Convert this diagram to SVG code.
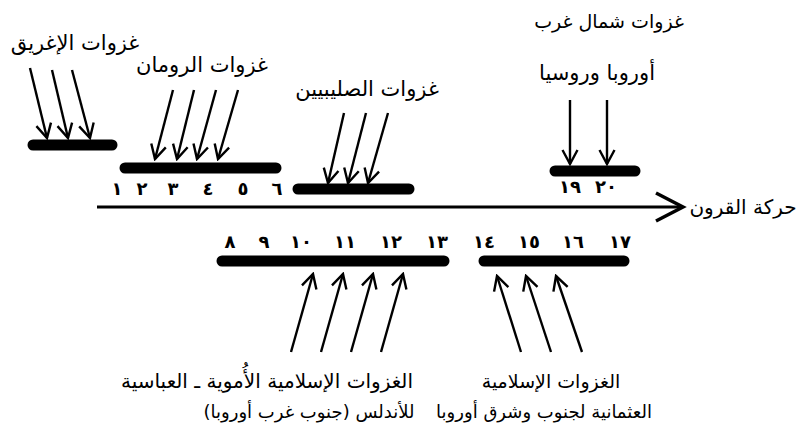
<svg xmlns="http://www.w3.org/2000/svg" width="801" height="438" viewBox="0 0 801 438">
<defs>
<style>
.lbl{font-family:"DejaVu Sans",sans-serif;font-size:21px;fill:#000;text-anchor:middle;direction:rtl}
.blbl{font-family:"DejaVu Sans",sans-serif;font-size:20px;fill:#000;text-anchor:middle;direction:rtl}
.slbl{font-family:"DejaVu Sans",sans-serif;font-size:18px;fill:#000;text-anchor:middle;direction:rtl}
.num{font-family:"DejaVu Sans",sans-serif;font-size:18px;font-weight:bold;fill:#000;text-anchor:middle}
.bar{stroke:#000;stroke-width:11;stroke-linecap:round}
.arr{stroke:#000;stroke-width:2.4;fill:none;marker-end:url(#ah)}
</style>
<marker id="ah" viewBox="0 0 18 18" refX="16" refY="9" markerWidth="18" markerHeight="18" orient="auto" markerUnits="userSpaceOnUse">
<path d="M2,1.5 L16,9 L2,16.5" fill="none" stroke="#000" stroke-width="2.4"/>
</marker>
</defs>
<rect width="801" height="438" fill="#fff"/>

<g id="timeline">
<line x1="97" y1="207" x2="682" y2="207" stroke="#000" stroke-width="3"/>
<path d="M656,193 L683,207 L656,221" fill="none" stroke="#000" stroke-width="3.5"/>
<text class="lbl" x="743" y="214" style="font-size:20px">حركة القرون</text>
</g>

<g id="greek">
<line class="bar" x1="33" y1="145" x2="112" y2="145"/>
<text class="lbl" x="75" y="50">غزوات الإغريق</text>
</g>
<g id="roman">
<line class="bar" x1="125" y1="168" x2="276" y2="168"/>
<text class="lbl" x="202" y="72">غزوات الرومان</text>
</g>
<g id="crusades">
<line class="bar" x1="298" y1="189" x2="409" y2="189"/>
<text class="lbl" x="367" y="96">غزوات الصليبيين</text>
</g>
<g id="nweurope">
<line class="bar" x1="555" y1="171" x2="635" y2="171"/>
<text class="lbl" x="609" y="28" style="font-size:19px">غزوات شمال غرب</text>
<text class="lbl" x="597" y="80">أوروبا وروسيا</text>
</g>
<g id="umayyad">
<line class="bar" x1="222" y1="261" x2="444" y2="261"/>
<text class="blbl" x="267" y="388">الغزوات الإسلامية الأُموية ـ العباسية</text>
<text class="slbl" x="309" y="418">للأندلس (جنوب غرب أوروبا)</text>
</g>
<g id="ottoman">
<line class="bar" x1="484" y1="261" x2="624" y2="261"/>
<text class="slbl" x="551" y="388" style="font-size:19px">الغزوات الإسلامية</text>
<text class="slbl" x="544" y="418">العثمانية لجنوب وشرق أوروبا</text>
</g>

<g id="numbers">
<text class="num" x="117" y="195">١</text>
<text class="num" x="142" y="195">٢</text>
<text class="num" x="173" y="195">٣</text>
<text class="num" x="208" y="195">٤</text>
<text class="num" x="243" y="195">٥</text>
<text class="num" x="277" y="195">٦</text>
<text class="num" x="570" y="193">١٩</text>
<text class="num" x="606" y="193">٢٠</text>
<text class="num" x="230" y="248">٨</text>
<text class="num" x="264" y="248">٩</text>
<text class="num" x="301" y="248">١٠</text>
<text class="num" x="345" y="248">١١</text>
<text class="num" x="391" y="248">١٢</text>
<text class="num" x="437" y="248">١٣</text>
<text class="num" x="484" y="248">١٤</text>
<text class="num" x="529" y="248">١٥</text>
<text class="num" x="573" y="248">١٦</text>
<text class="num" x="620" y="248">١٧</text>
</g>

<g id="connectors">
<line class="arr" x1="30" y1="68" x2="47" y2="138"/>
<line class="arr" x1="52" y1="70" x2="68" y2="138"/>
<line class="arr" x1="72" y1="70" x2="90" y2="138"/>
<line class="arr" x1="173" y1="90" x2="155" y2="159"/>
<line class="arr" x1="194" y1="90" x2="177" y2="159"/>
<line class="arr" x1="216" y1="90" x2="197" y2="159"/>
<line class="arr" x1="238" y1="90" x2="218" y2="159"/>
<line class="arr" x1="344" y1="113" x2="328" y2="183"/>
<line class="arr" x1="366" y1="113" x2="348" y2="183"/>
<line class="arr" x1="388" y1="113" x2="368" y2="183"/>
<line class="arr" x1="570" y1="100" x2="570" y2="164"/>
<line class="arr" x1="607" y1="100" x2="607" y2="164"/>
<line class="arr" x1="291" y1="352" x2="313" y2="274"/>
<line class="arr" x1="321" y1="352" x2="343" y2="274"/>
<line class="arr" x1="351" y1="352" x2="373" y2="274"/>
<line class="arr" x1="381" y1="352" x2="403" y2="274"/>
<line class="arr" x1="521" y1="352" x2="497" y2="276"/>
<line class="arr" x1="551" y1="352" x2="526" y2="276"/>
<line class="arr" x1="582" y1="352" x2="556" y2="276"/>
</g>
</svg>
